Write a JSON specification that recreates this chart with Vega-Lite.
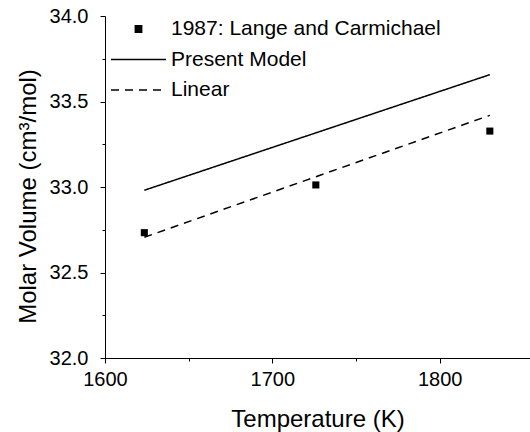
{
  "$schema": "https://vega.github.io/schema/vega-lite/v6.json",
  "width": 425,
  "height": 342,
  "autosize": {"type": "none"},
  "padding": {"left": 105, "top": 16, "right": 0, "bottom": 74},
  "background": "white",
  "config": {
    "view": {"stroke": null},
    "font": "Liberation Sans",
    "axis": {
      "grid": false,
      "domainColor": "black",
      "domainWidth": 1,
      "tickColor": "black",
      "tickWidth": 1,
      "labelColor": "black",
      "labelFont": "Liberation Sans",
      "labelFontSize": 20,
      "titleFont": "Liberation Sans",
      "titleFontSize": 24,
      "titleFontWeight": "normal",
      "titleColor": "black"
    }
  },
  "data": {
    "values": [
      {"series": "1987: Lange and Carmichael", "T": 1623.5, "V": 32.733},
      {"series": "1987: Lange and Carmichael", "T": 1726, "V": 33.012},
      {"series": "1987: Lange and Carmichael", "T": 1830, "V": 33.327},
      {"series": "Present Model", "T": 1623.5, "V": 32.981},
      {"series": "Present Model", "T": 1830, "V": 33.657},
      {"series": "Linear", "T": 1623.5, "V": 32.706},
      {"series": "Linear", "T": 1830, "V": 33.419}
    ]
  },
  "layer": [
    {
      "transform": [{"filter": "datum.series !== '1987: Lange and Carmichael'"}],
      "mark": {"type": "line", "color": "black", "strokeWidth": 1.5},
      "encoding": {
        "x": {
          "field": "T", "type": "quantitative",
          "scale": {"domain": [1600, 1854], "nice": false, "zero": false},
          "axis": {"orient": "bottom", "values": [1600, 1700, 1800], "format": "d", "tickSize": 5, "labelPadding": 6, "title": "Temperature (K)", "titlePadding": 18, "labelFlush": false, "labelOverlap": false}
        },
        "y": {
          "field": "V", "type": "quantitative",
          "scale": {"domain": [32, 34], "nice": false, "zero": false},
          "axis": {"orient": "left", "values": [32, 32.5, 33, 33.5, 34], "format": ".1f", "tickSize": 5, "labelPadding": 12, "title": "Molar Volume (cm³/mol)", "titlePadding": 9, "titleY": 180, "labelFlush": false, "labelOverlap": false}
        },
        "strokeDash": {
          "field": "series", "type": "nominal",
          "scale": {"domain": ["1987: Lange and Carmichael", "Present Model", "Linear"], "range": [[1, 0], [1, 0], [8, 6]]},
          "legend": {
            "orient": "none",
            "legendX": 5,
            "legendY": 2.5,
            "title": null,
            "padding": 0,
            "symbolType": "stroke",
            "symbolSize": 3025,
            "symbolStrokeWidth": 1.5,
            "symbolStrokeColor": "black",
            "labelFont": "Liberation Sans",
            "labelFontSize": 21,
            "labelColor": "black",
            "labelOffset": 4,
            "labelLimit": 400,
            "clipHeight": 21,
            "rowPadding": 8.5,
            "encode": {
              "symbols": {
                "update": {
                  "shape": {"signal": "datum.value === '1987: Lange and Carmichael' ? 'square' : 'stroke'"},
                  "size": {"signal": "datum.value === '1987: Lange and Carmichael' ? 40 : 3025"},
                  "fill": {"signal": "datum.value === '1987: Lange and Carmichael' ? 'black' : 'transparent'"},
                  "stroke": {"value": "black"},
                  "strokeWidth": {"value": 1.5},
                  "opacity": {"value": 1}
                }
              }
            }
          }
        }
      }
    },
    {
      "transform": [{"filter": "datum.series === '1987: Lange and Carmichael'"}],
      "mark": {"type": "point", "shape": "square", "filled": true, "color": "black", "size": 50, "opacity": 1},
      "encoding": {
        "x": {
          "field": "T", "type": "quantitative",
          "scale": {"domain": [1600, 1854], "nice": false, "zero": false},
          "axis": {"orient": "bottom", "values": [1650, 1750], "tickSize": 3, "labels": false, "domain": false, "title": null}
        },
        "y": {
          "field": "V", "type": "quantitative",
          "scale": {"domain": [32, 34], "nice": false, "zero": false},
          "axis": {"orient": "left", "values": [32.25, 32.75, 33.25, 33.75], "tickSize": 3, "labels": false, "domain": false, "title": null}
        }
      }
    }
  ],
  "resolve": {"axis": {"x": "independent", "y": "independent"}}
}
